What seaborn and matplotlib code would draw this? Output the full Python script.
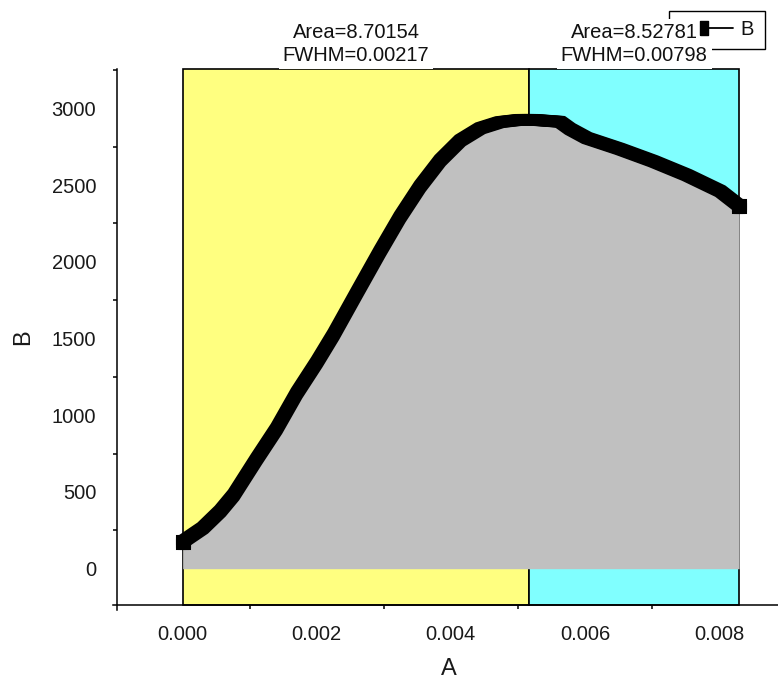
import numpy as np
import pandas as pd
import matplotlib
matplotlib.use("Agg")
import matplotlib.pyplot as plt
import matplotlib.patheffects as pe
import matplotlib.transforms as mtransforms
from matplotlib.lines import Line2D
from matplotlib.patches import Rectangle
from matplotlib.legend_handler import HandlerLine2D
from matplotlib.ticker import MultipleLocator, FormatStrFormatter
import seaborn as sns

# Measured curve
A = [0.0, 0.0003, 0.00056, 0.00076, 0.0011, 0.0014, 0.0017, 0.0020, 0.00225,
     0.0026, 0.00294, 0.00324, 0.00354, 0.00384, 0.00414, 0.00444, 0.00473,
     0.00503, 0.00523, 0.00563, 0.00578, 0.00603, 0.00652, 0.00702, 0.00752,
     0.00802, 0.0083]
B = [176, 265, 375, 480, 713, 912, 1143, 1345, 1525,
     1800, 2065, 2290, 2490, 2660, 2790, 2870, 2910,
     2925, 2925, 2912, 2865, 2806, 2735, 2655, 2565,
     2460, 2365]

# Integration regions and their results
region_edges = [0.0, 0.00517, 0.0083]
region_colors = ["#FFFF80", "#80FFFF"]
region_area = [8.70154, 8.52781]
region_fwhm = [0.00217, 0.00798]
series_name = "B"

x_ticks = [0.000, 0.002, 0.004, 0.006, 0.008]
y_ticks = [0, 500, 1000, 1500, 2000, 2500, 3000]

sns.set_style("white")
plt.rcParams["font.family"] = ["Liberation Sans", "DejaVu Sans"]
plt.rcParams["text.color"] = "#111111"

fig = plt.figure(figsize=(7.78, 6.88), dpi=100)
ax = fig.add_axes([0.15, 0.12064, 0.85, 0.77907])

xlim = (-0.000984, 0.00888)
ylim = (-236.5, 3256)

# shaded regions
for i in range(2):
    ax.axvspan(region_edges[i], region_edges[i + 1], ymin=0, ymax=1,
               facecolor=region_colors[i], edgecolor="black",
               linewidth=1.2, zorder=1, clip_on=False)

df = pd.DataFrame({"A": A, "B": B})
ax.fill_between(df["A"], df["B"], 0, color="#C0C0C0", linewidth=0, zorder=2)

# thick square-symbol trace: the stroke is swept over a small square
h = 3.1
w0 = 2.2
steps = (-h, -h / 2, 0, h / 2, h)
offsets = [(dx, dy) for dx in steps for dy in steps]
effects = [pe.Stroke(offset=o, linewidth=w0, foreground="black") for o in offsets]
sns.lineplot(data=df, x="A", y="B", color="black", linewidth=w0, sort=False,
             ax=ax, zorder=3, legend=False)
trace = ax.lines[-1]
trace.set_solid_capstyle("butt")
trace.set_marker("s")
trace.set_markersize(2.6)
trace.set_markerfacecolor("black")
trace.set_markeredgecolor("black")
trace.set_markevery([0, len(A) - 1])
trace.set_path_effects(effects)

ax.set_xlim(*xlim)
ax.set_ylim(*ylim)

ax.xaxis.set_minor_locator(MultipleLocator(0.001))
ax.xaxis.set_major_formatter(FormatStrFormatter("%.3f"))
ax.set_xticks(x_ticks)
ax.set_yticks(y_ticks)
ax.yaxis.set_minor_locator(MultipleLocator(250))

for side in ("top", "right"):
    ax.spines[side].set_visible(False)
for side in ("left", "bottom"):
    ax.spines[side].set_color("black")
    ax.spines[side].set_linewidth(1.1)
ax.spines["left"].set_bounds(ylim[0] - 33, ylim[1])
ax.spines["bottom"].set_bounds(xlim[0] - 0.00006, xlim[1])

ax.tick_params(which="major", direction="out", length=6.1, width=1.1,
               color="black", labelsize=14.5, labelcolor="#1a1a1a")
ax.tick_params(axis="x", which="major", pad=8.4)
ax.tick_params(axis="y", which="major", pad=8.7)
ax.tick_params(which="minor", direction="out", length=3.2, width=1.1,
               color="black", bottom=True, left=True)

ax.set_xlabel("A", fontsize=17, color="#1a1a1a")
ax.set_ylabel("B", fontsize=17, color="#1a1a1a")
ax.xaxis.set_label_coords(0.5025, -0.098)
ax.yaxis.set_label_coords(-0.125, 0.5)

# region annotations
trans = mtransforms.blended_transform_factory(ax.transData, ax.transAxes)
for i in range(2):
    xc = (region_edges[i] + region_edges[i + 1]) / 2
    ax.text(xc, 1.0466,
            f"Area={region_area[i]:.5f}\nFWHM={region_fwhm[i]:.5f}",
            transform=trans, ha="center", va="center", fontsize=14.5,
            linespacing=1.3, zorder=6, clip_on=False,
            bbox=dict(boxstyle="square,pad=0.2", facecolor="white",
                      edgecolor="none"))

# legend
class MarkerAtStart(HandlerLine2D):
    def create_artists(self, *args, **kwargs):
        artists = super().create_artists(*args, **kwargs)
        for a in artists:
            a.set_markevery([0])
        return artists

bar_marker = [(-0.27, -0.5), (0.27, -0.5), (0.27, 0.5), (-0.27, 0.5), (-0.27, -0.5)]
handle = Line2D([], [], color="black", linewidth=1.3, marker=bar_marker,
                markersize=9.4, markerfacecolor="black", markeredgecolor="black")
leg = ax.legend([handle], [series_name], loc="center left",
                bbox_to_anchor=(0.8881, 1.0737), bbox_transform=ax.transAxes,
                frameon=False, borderpad=0, borderaxespad=0,
                handlelength=1.44, handletextpad=0.35, fontsize=14.5,
                handler_map={handle: MarkerAtStart(numpoints=2, marker_pad=0)})
leg.set_zorder(7)

ax.add_patch(Rectangle((0.8352, 1.0367), 0.1456, 0.0720, transform=ax.transAxes,
                       fill=False, edgecolor="black", linewidth=1.0,
                       clip_on=False, zorder=4.5))

fig.savefig("out.png", dpi=100)
